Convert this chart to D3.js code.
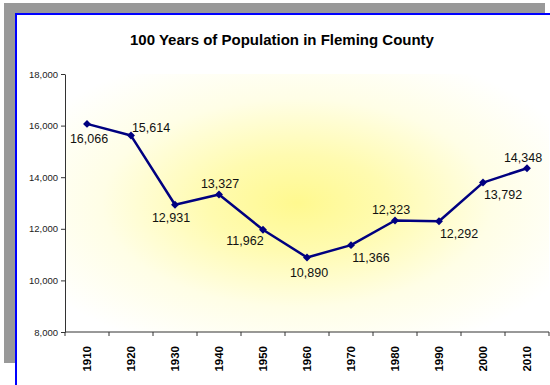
<!DOCTYPE html>
<html>
<head>
<meta charset="utf-8">
<script src="https://cdn.jsdelivr.net/npm/d3@7"></script>
<style>
  html, body { margin: 0; padding: 0; background: #ffffff; }
  svg { display: block; }
</style>
</head>
<body>
<svg id="chart" width="550" height="385"></svg>
<script>
// Census years and population counts
const years = ["1910", "1920", "1930", "1940", "1950", "1960", "1970", "1980", "1990", "2000", "2010"];
const population = [16066, 15614, 12931, 13327, 11962, 10890, 11366, 12323, 12292, 13792, 14348];
const yTicks = [8000, 10000, 12000, 14000, 16000, 18000];
const titleText = "100 Years of Population in Fleming County";
// where each value label sits around its marker
const labelSide = ["below", "aboveRight", "belowLeft", "above", "belowLeftFar", "below", "belowRight", "aboveLeft", "belowRight", "belowRight", "aboveLeft"];

const labelOffset = {
  below:        [2, 15],
  above:        [1, -11],
  aboveRight:   [20, -8],
  aboveLeft:    [-4, -11],
  belowLeft:    [-4, 13],
  belowLeftFar: [-18, 11],
  belowRight:   [20, 12]
};

const svg = d3.select("#chart");

// frame: grey shadow behind a blue-bordered white panel
svg.append("rect").attr("x", 4).attr("y", 3).attr("width", 541).attr("height", 360).attr("fill", "#999999");
svg.append("rect").attr("x", 16).attr("y", 14).attr("width", 560).attr("height", 400)
  .attr("fill", "#ffffff").attr("stroke", "#0000ff").attr("stroke-width", 2);

const plot = { left: 65, right: 549, top: 74, bottom: 332 };

const defs = svg.append("defs");
const grad = defs.append("radialGradient").attr("id", "glow")
  .attr("cx", "0.48").attr("cy", "0.5").attr("r", "0.62");
grad.append("stop").attr("offset", "0").attr("stop-color", "#fff98f");
grad.append("stop").attr("offset", "0.3").attr("stop-color", "#fffbb0");
grad.append("stop").attr("offset", "0.65").attr("stop-color", "#fffee6");
grad.append("stop").attr("offset", "1").attr("stop-color", "#ffffff");

svg.append("rect")
  .attr("x", plot.left).attr("y", plot.top)
  .attr("width", plot.right - plot.left).attr("height", plot.bottom - plot.top)
  .attr("fill", "url(#glow)");

const x = d3.scaleBand().domain(years).range([plot.left, plot.right]);
const y = d3.scaleLinear().domain([8000, 18000]).range([plot.bottom, plot.top]);

// title
svg.append("text")
  .attr("x", 282).attr("y", 45)
  .attr("text-anchor", "middle")
  .attr("font-family", "Liberation Sans, Arial, sans-serif")
  .attr("font-weight", "bold").attr("font-size", 15)
  .attr("fill", "#000")
  .text(titleText);

// y axis
const yAxis = svg.append("g")
  .attr("transform", `translate(${plot.left},0)`)
  .call(d3.axisLeft(y).tickValues(yTicks).tickFormat(d3.format(",")).tickSize(4).tickSizeOuter(0).tickPadding(3));
yAxis.select(".domain").attr("stroke", "#333");
yAxis.selectAll(".tick line").attr("stroke", "#333");
yAxis.selectAll("text")
  .attr("font-family", "Liberation Sans, Arial, sans-serif")
  .attr("font-size", 9.5).attr("fill", "#222");

// x axis: ticks at the category boundaries
const xAxis = svg.append("g").attr("transform", `translate(0,${plot.bottom})`);
xAxis.append("line")
  .attr("x1", plot.left).attr("x2", plot.right)
  .attr("stroke", "#333");
const bounds = years.map(d => x(d)).concat([plot.right]);
xAxis.selectAll("line.tk").data(bounds).join("line")
  .attr("class", "tk")
  .attr("x1", d => d).attr("x2", d => d)
  .attr("y1", 0).attr("y2", 4)
  .attr("stroke", "#333");
xAxis.selectAll("text").data(years).join("text")
  .attr("transform", d => `translate(${x(d) + x.bandwidth() / 2},14) rotate(-90)`)
  .attr("text-anchor", "end")
  .attr("dy", "0.36em")
  .attr("font-family", "Liberation Sans, Arial, sans-serif")
  .attr("font-weight", "bold").attr("font-size", 11.5)
  .attr("fill", "#000")
  .text(d => d);

// line
const pts = years.map((d, i) => [x(d) + x.bandwidth() / 2, y(population[i])]);
svg.append("path")
  .attr("d", d3.line()(pts))
  .attr("fill", "none")
  .attr("stroke", "#000080")
  .attr("stroke-width", 2.5)
  .attr("stroke-linejoin", "round");

// diamond markers
svg.selectAll("path.mk").data(pts).join("path")
  .attr("class", "mk")
  .attr("d", d3.symbol(d3.symbolDiamond2, 40)())
  .attr("transform", d => `translate(${d[0]},${d[1]})`)
  .attr("fill", "#000080");

// value labels
svg.selectAll("text.val").data(population).join("text")
  .attr("class", "val")
  .attr("x", (d, i) => pts[i][0] + labelOffset[labelSide[i]][0])
  .attr("y", (d, i) => pts[i][1] + labelOffset[labelSide[i]][1])
  .attr("dy", "0.36em")
  .attr("text-anchor", "middle")
  .attr("font-family", "Liberation Sans, Arial, sans-serif")
  .attr("font-size", 12.5)
  .attr("fill", "#111")
  .text(d => d3.format(",")(d));
</script>
</body>
</html>
